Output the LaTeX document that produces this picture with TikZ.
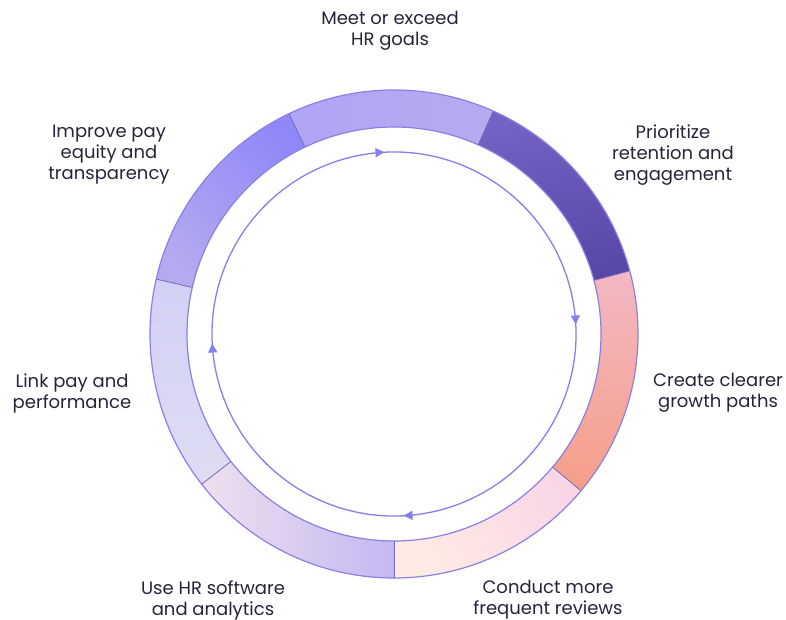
\documentclass[tikz,border=0pt]{standalone}
\usepackage{fontspec}
\setmainfont{Poppins}
\usetikzlibrary{arrows.meta,decorations.markings}
\definecolor{txt}{HTML}{25253A}
\definecolor{ringline}{HTML}{8A80E6}
\definecolor{divline}{HTML}{7468C0}
\definecolor{arrowc}{HTML}{8580EE}
\definecolor{sAa}{HTML}{B0A4F6}\definecolor{sAb}{HTML}{B8AAEF}
\definecolor{sBa}{HTML}{7462C4}\definecolor{sBb}{HTML}{5847A6}
\definecolor{sCa}{HTML}{F3B8C4}\definecolor{sCb}{HTML}{F59E88}
\definecolor{sDa}{HTML}{F8D6E6}\definecolor{sDb}{HTML}{FFEBE3}
\definecolor{sEa}{HTML}{C4B8F2}\definecolor{sEb}{HTML}{EEE0EE}
\definecolor{sFa}{HTML}{D3D0F6}\definecolor{sFb}{HTML}{DEDDF3}
\definecolor{sGa}{HTML}{9088F8}\definecolor{sGb}{HTML}{B4AAF0}
\begin{document}
\begin{tikzpicture}[x=1pt,y=1pt,
  lbl/.style={align=center, font=\fontsize{18}{21}\selectfont, text=txt, inner sep=0pt},
  ringedge/.style={draw=ringline, line width=1.2pt},
  divider/.style={draw=divline, line width=0.8pt},
  cycleline/.style={draw=arrowc, line width=1.3pt,
    postaction={decorate},
    decoration={markings,
      mark=at position 0.025 with {\arrow{Triangle[length=9pt,width=9pt]}},
      mark=at position 0.275 with {\arrow{Triangle[length=9pt,width=9pt]}},
      mark=at position 0.525 with {\arrow{Triangle[length=9pt,width=9pt]}},
      mark=at position 0.775 with {\arrow{Triangle[length=9pt,width=9pt]}}}},
]
\useasboundingbox (0,0) rectangle (786,620);
\fill[white] (0,0) rectangle (786,620);
\coordinate (c) at (394,286);
\def\Ro{244}
\def\Ri{207}
% ring segments
\foreach \a/\b/\ca/\cb/\ang in {
  66/115.5/sAa/sAb/90,
  15/66/sBa/sBb/10,
  -40/15/sCa/sCb/0,
  -90/-40/sDa/sDb/-60,
  -142/-90/sEa/sEb/-90,
  167/218/sFa/sFb/0,
  115.5/167/sGa/sGb/-45}{
  \shade[top color=\ca, bottom color=\cb, shading angle=\ang]
    ([shift={(\a:\Ro)}]c) arc[start angle=\a, end angle=\b, radius=\Ro]
    -- ([shift={(\b:\Ri)}]c) arc[start angle=\b, end angle=\a, radius=\Ri] -- cycle;
}
% dividers
\foreach \a in {115.5,66,15,-40,-90,-142,167}{
  \draw[divider] ([shift={(\a:\Ri)}]c) -- ([shift={(\a:\Ro)}]c);
}
\draw[ringedge] (c) circle[radius=\Ro];
\draw[ringedge] (c) circle[radius=\Ri];
% inner cycle with arrows (clockwise)
\draw[cycleline] ([shift={(12:182)}]c) arc[start angle=12, end angle=-348, radius=182];
% labels
\node[lbl] (goals) at (390,589.5) {Meet or exceed\\HR goals};
\node[lbl] (retention) at (673,465) {Prioritize\\retention and\\engagement};
\node[lbl] (growth) at (718,227) {Create clearer\\growth paths};
\node[lbl] (reviews) at (548,20) {Conduct more\\frequent reviews};
\node[lbl] (software) at (213,20) {Use HR software\\and analytics};
\node[lbl] (link) at (72,226.5) {Link pay and\\performance};
\node[lbl] (equity) at (109,465) {Improve pay\\equity and\\transparency};
\end{tikzpicture}
\end{document}
